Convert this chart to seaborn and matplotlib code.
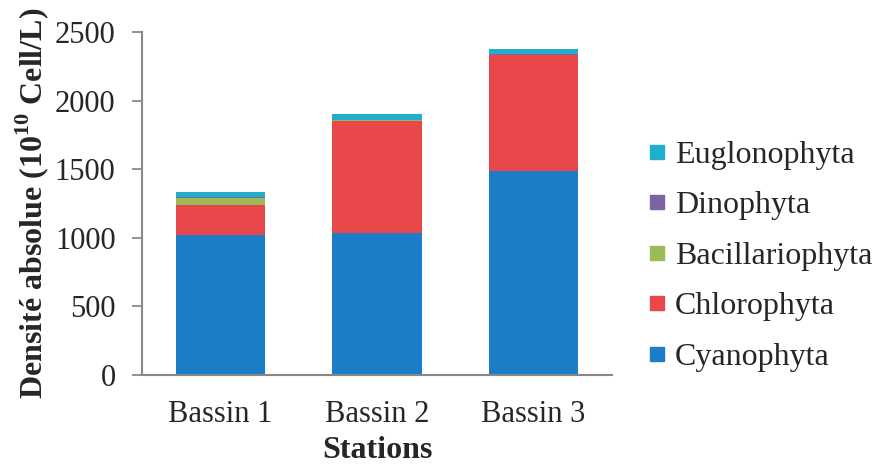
import numpy as np
import pandas as pd
import matplotlib
matplotlib.use("Agg")
import matplotlib.pyplot as plt
from matplotlib.lines import Line2D
import seaborn as sns

# data (10^10 Cell/L)
stations = ["Bassin 1", "Bassin 2", "Bassin 3"]
cyanophyta = [1020, 1035, 1485]
chlorophyta = [220, 815, 845]
bacillariophyta = [50, 5, 4]
dinophyta = [5, 3, 3]
euglonophyta = [42, 45, 40]

groups = ["Cyanophyta", "Chlorophyta", "Bacillariophyta", "Dinophyta", "Euglonophyta"]
colors = {"Cyanophyta": "#1C7DC9", "Chlorophyta": "#E84849", "Bacillariophyta": "#9BBB59",
          "Dinophyta": "#8064A2", "Euglonophyta": "#1FAFCB"}

df = pd.DataFrame({"Stations": stations, "Cyanophyta": cyanophyta, "Chlorophyta": chlorophyta,
                   "Bacillariophyta": bacillariophyta, "Dinophyta": dinophyta,
                   "Euglonophyta": euglonophyta})
# cumulative heights so the layers can be drawn on top of each other
cum = df[groups].cumsum(axis=1)
cum["Stations"] = df["Stations"]

sns.set_style("white")
plt.rcParams["font.family"] = ["Liberation Serif", "DejaVu Serif"]
plt.rcParams["mathtext.fontset"] = "custom"
plt.rcParams["mathtext.rm"] = "Liberation Serif"
plt.rcParams["mathtext.bf"] = "Liberation Serif:bold"

fig = plt.figure(figsize=(8.77, 4.70), dpi=100)
ax = fig.add_axes([142 / 877, 95 / 470, 470 / 877, 343 / 470])

for g in reversed(groups):
    sns.barplot(data=cum, x="Stations", y=g, color=colors[g], width=0.57, ax=ax,
                saturation=1, edgecolor="none", linewidth=0)

ax.set_xlim(-0.5, 2.5)
ax.set_ylim(0, 2500)
ax.set_yticks(np.arange(0, 2501, 500))
ax.tick_params(axis="y", labelsize=22, length=7, width=1.3, color="#888888", direction="out", pad=12, left=True)
ax.tick_params(axis="x", labelsize=22, length=0, pad=18)
for s in ["top", "right"]:
    ax.spines[s].set_visible(False)
for s in ["left", "bottom"]:
    ax.spines[s].set_color("#888888")
    ax.spines[s].set_linewidth(1.5)

ax.set_xlabel("Stations", fontsize=23, fontweight="bold", labelpad=5)
ax.set_ylabel(r"Densité absolue (10$^{\mathbf{10}}$ Cell/L)", fontsize=23, fontweight="bold", labelpad=3)

handles = [Line2D([], [], marker="s", linestyle="none", markersize=10,
                  markerfacecolor=colors[g], markeredgecolor=colors[g]) for g in reversed(groups)]
fig.legend(handles, list(reversed(groups)), loc="center left", bbox_to_anchor=(619 / 877, 0.455),
           frameon=False, fontsize=23, handlelength=0.6, handletextpad=0.25, labelspacing=0.66)

fig.savefig("out.png", dpi=100)
